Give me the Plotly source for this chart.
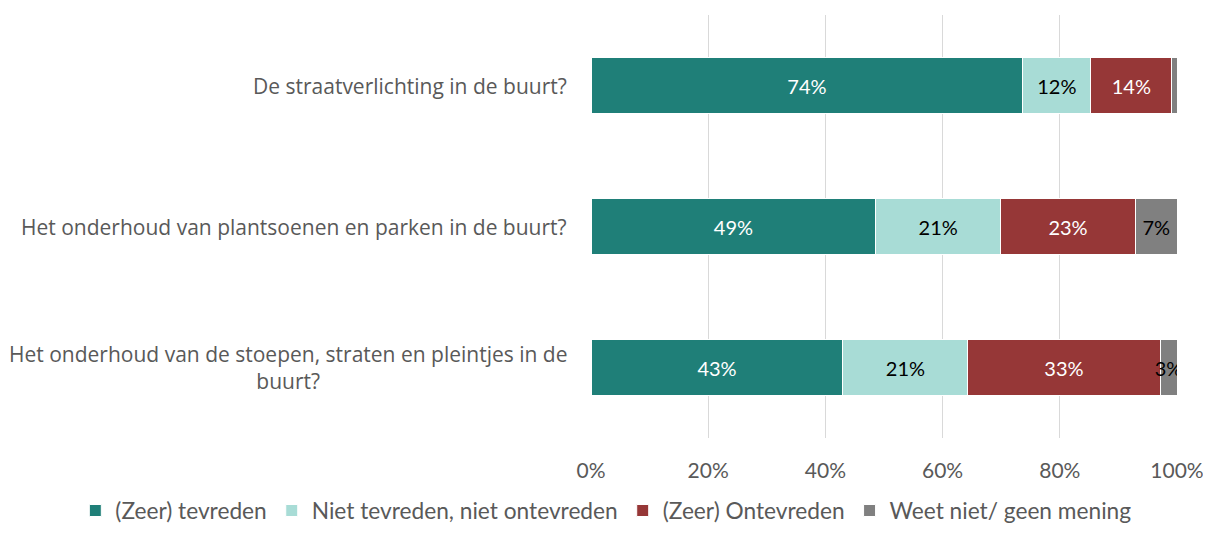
import plotly.graph_objects as go

# Vragen (van boven naar beneden)
vragen = [
    "De straatverlichting in de buurt?",
    "Het onderhoud van plantsoenen en parken in de buurt?",
    "Het onderhoud van de stoepen, straten en pleintjes in de<br>buurt?",
]

# Percentages per antwoordcategorie
tevreden = [73.7, 48.6, 43.0]
neutraal = [11.6, 21.3, 21.3]
ontevreden = [13.8, 23.0, 32.8]
weet_niet = [0.9, 7.1, 2.9]

reeksen = [
    ("(Zeer) tevreden", tevreden, "#1f7f78", "white"),
    ("Niet tevreden, niet ontevreden", neutraal, "#a8dcd6", "black"),
    ("(Zeer) Ontevreden", ontevreden, "#963737", "white"),
    ("Weet niet/ geen mening", weet_niet, "#808080", "black"),
]

fig = go.Figure()
for naam, waarden, kleur, tekstkleur in reeksen:
    fig.add_trace(go.Bar(
        y=vragen,
        x=waarden,
        name=naam,
        orientation="h",
        marker=dict(color=kleur, line=dict(color="white", width=1)),
        text=[f"{v:.0f}%" if v >= 2 else "" for v in waarden],
        textposition="inside",
        insidetextanchor="middle",
        textangle=0,
        textfont=dict(color=tekstkleur, size=20, family="Lato"),
        hoverinfo="x+name",
    ))

# categorie-labels als annotaties, zodat de tweede regel gecentreerd staat
for v in vragen:
    fig.add_annotation(
        x=0, xref="paper", y=v, yref="y",
        text=v, showarrow=False,
        xanchor="right", align="center", xshift=-22,
        font=dict(size=21, family="Open Sans", color="#595959"),
    )

# de pagina heeft 8px marge rondom, daarom iets kleiner
fig.update_layout(
    barmode="stack",
    bargap=0.6,
    width=1195,
    height=517,
    margin=dict(l=583, r=26, t=7, b=87, autoexpand=False),
    plot_bgcolor="white",
    paper_bgcolor="white",
    uniformtext=dict(minsize=20, mode="show"),
    font=dict(family="Lato", color="#595959"),
    showlegend=True,
    legend=dict(
        orientation="h",
        traceorder="normal",
        x=-0.88, xanchor="left",
        y=-0.172, yanchor="middle",
        font=dict(size=22.7, color="#595959"),
        itemwidth=30,
    ),
    xaxis=dict(
        range=[0, 100],
        tickvals=[0, 20, 40, 60, 80, 100],
        ticktext=["0%", "20%", "40%", "60%", "80%", "100%"],
        showgrid=True,
        gridcolor="#d9d9d9",
        gridwidth=1,
        zeroline=False,
        tickfont=dict(size=21, color="#595959"),
        ticklabelstandoff=18,
        ticklabeloverflow="allow",
        fixedrange=True,
    ),
    yaxis=dict(
        autorange="reversed",
        showticklabels=False,
        showgrid=False,
        fixedrange=True,
    ),
)

fig.write_html("out.html")
